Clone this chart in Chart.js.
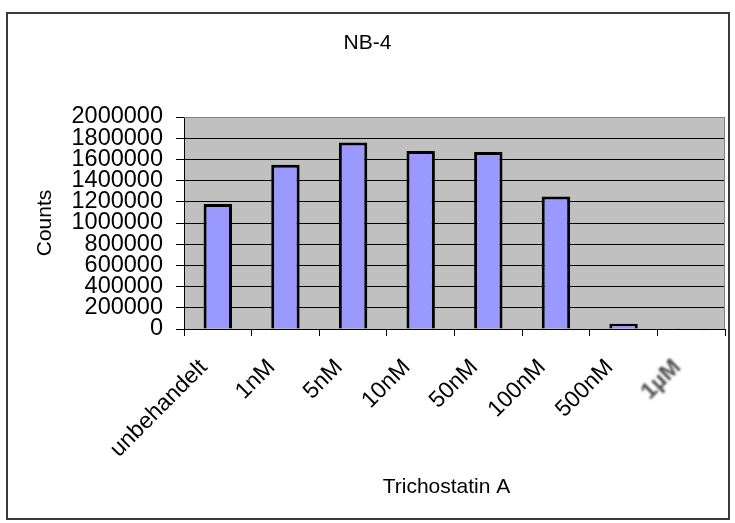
<!DOCTYPE html>
<html>
<head>
<meta charset="utf-8">
<script src="https://cdn.jsdelivr.net/npm/chart.js@4/dist/chart.umd.min.js"></script>
<style>
  html, body { margin: 0; padding: 0; background: #fff; }
  #wrap { position: relative; width: 735px; height: 523px; }
  #frame {
    position: absolute; left: 6px; top: 12px; width: 720px; height: 504px;
    border: 2px solid #3a3a3a;
  }
  canvas { position: absolute; left: 0; top: 0; }
</style>
</head>
<body>
<div id="wrap">
  <div id="frame"></div>
  <canvas id="myChart" width="735" height="523"></canvas>
</div>
<script>
'use strict';

// Trichostatin A dose series, NB-4 cells
const doses = ['unbehandelt', '1nM', '5nM', '10nM', '50nM', '100nM', '500nM', '1\u00b5M'];
const counts = [1180000, 1550000, 1760000, 1680000, 1670000, 1250000, 50000, 8000];
const yTicks = [0, 200000, 400000, 600000, 800000, 1000000, 1200000, 1400000, 1600000, 1800000, 2000000];

const FONT = "'Liberation Sans', Arial, sans-serif";

// grey plot background plus thin grey frame round the plot area
const plotBackground = {
  id: 'plotBackground',
  beforeDraw(chart) {
    const { ctx, chartArea: a } = chart;
    ctx.save();
    ctx.fillStyle = '#c0c0c0';
    ctx.fillRect(a.left, a.top, a.right - a.left, a.bottom - a.top);
    ctx.restore();
  },
  afterDatasetsDraw(chart) {
    const { ctx, chartArea: a } = chart;
    ctx.save();
    ctx.strokeStyle = '#808080';
    ctx.lineWidth = 1;
    ctx.beginPath();
    ctx.moveTo(a.left, a.top + 0.5);
    ctx.lineTo(a.right - 0.5, a.top + 0.5);
    ctx.lineTo(a.right - 0.5, a.bottom);
    ctx.stroke();
    ctx.restore();
  }
};

// chart title over the whole frame, x-axis title a little left of the plot centre
const titles = {
  id: 'titles',
  afterDraw(chart) {
    const ctx = chart.ctx;
    const a = chart.chartArea;
    ctx.save();
    ctx.font = '21px ' + FONT;
    ctx.fillStyle = '#000';
    ctx.textAlign = 'center';
    ctx.textBaseline = 'middle';
    ctx.fillText('NB-4', chart.width / 2, 43);
    ctx.fillText('Trichostatin A', (a.left + a.right) / 2 - 8, 487);
    ctx.restore();
  }
};

// the last category label comes out smudged, draw it again with a blur
const blurredLabel = {
  id: 'blurredLabel',
  afterDraw(chart) {
    const scale = chart.scales.x;
    const items = scale.getLabelItems();
    const item = items[items.length - 1];
    if (!item) return;
    const ctx = chart.ctx;
    const o = item.options;
    ctx.save();
    ctx.filter = 'blur(1.3px)';
    ctx.translate(o.translation[0], o.translation[1]);
    ctx.rotate(o.rotation);
    ctx.font = 'bold ' + item.font.string;
    ctx.fillStyle = '#505050';
    ctx.textAlign = o.textAlign;
    ctx.textBaseline = o.textBaseline;
    ctx.fillText(item.label, 0, item.textOffset);
    ctx.restore();
  }
};

const ctx = document.getElementById('myChart').getContext('2d');

const myChart = new Chart(ctx, {
  type: 'bar',
  data: {
    labels: doses,
    datasets: [{
      label: 'Counts',
      data: counts,
      backgroundColor: '#9999ff',
      borderColor: '#000',
      borderWidth: 3,
      barPercentage: 0.42,
      categoryPercentage: 1
    }]
  },
  options: {
    responsive: false,
    animation: false,
    layout: { padding: { left: 0, right: 10, top: 117, bottom: 0 } },
    plugins: {
      legend: { display: false },
      title: { display: false },
      tooltip: { enabled: false }
    },
    scales: {
      x: {
        afterFit(scale) { scale.height = 194; },
        border: { color: '#000', width: 1 },
        grid: {
          offset: true,
          drawOnChartArea: false,
          drawTicks: true,
          tickLength: 7,
          color: '#000'
        },
        ticks: {
          autoSkip: false,
          minRotation: 45,
          maxRotation: 45,
          padding: 18,
          labelOffset: -14,
          color: (c) => c.index === doses.length - 1 ? 'rgba(0,0,0,0)' : '#000',
          font: { family: FONT, size: 23 }
        },
        title: { display: false }
      },
      y: {
        min: 0,
        max: 2000000,
        afterFit(scale) { scale.width = 184; },
        afterBuildTicks(scale) { scale.ticks = yTicks.map(v => ({ value: v })); },
        border: { color: '#000', width: 1 },
        grid: {
          color: (c) => c.tick && c.tick.value === 2000000 ? '#808080' : '#000',
          tickColor: '#000',
          tickLength: 8,
          lineWidth: 1
        },
        ticks: {
          autoSkip: false,
          padding: 13,
          color: '#000',
          font: { family: FONT, size: 23.5 },
          callback: (v) => String(v)
        },
        title: {
          display: true,
          text: 'Counts',
          color: '#000',
          font: { family: FONT, size: 21 },
          padding: { top: 33, bottom: 0 }
        }
      }
    }
  },
  plugins: [plotBackground, titles, blurredLabel]
});
</script>
</body>
</html>
